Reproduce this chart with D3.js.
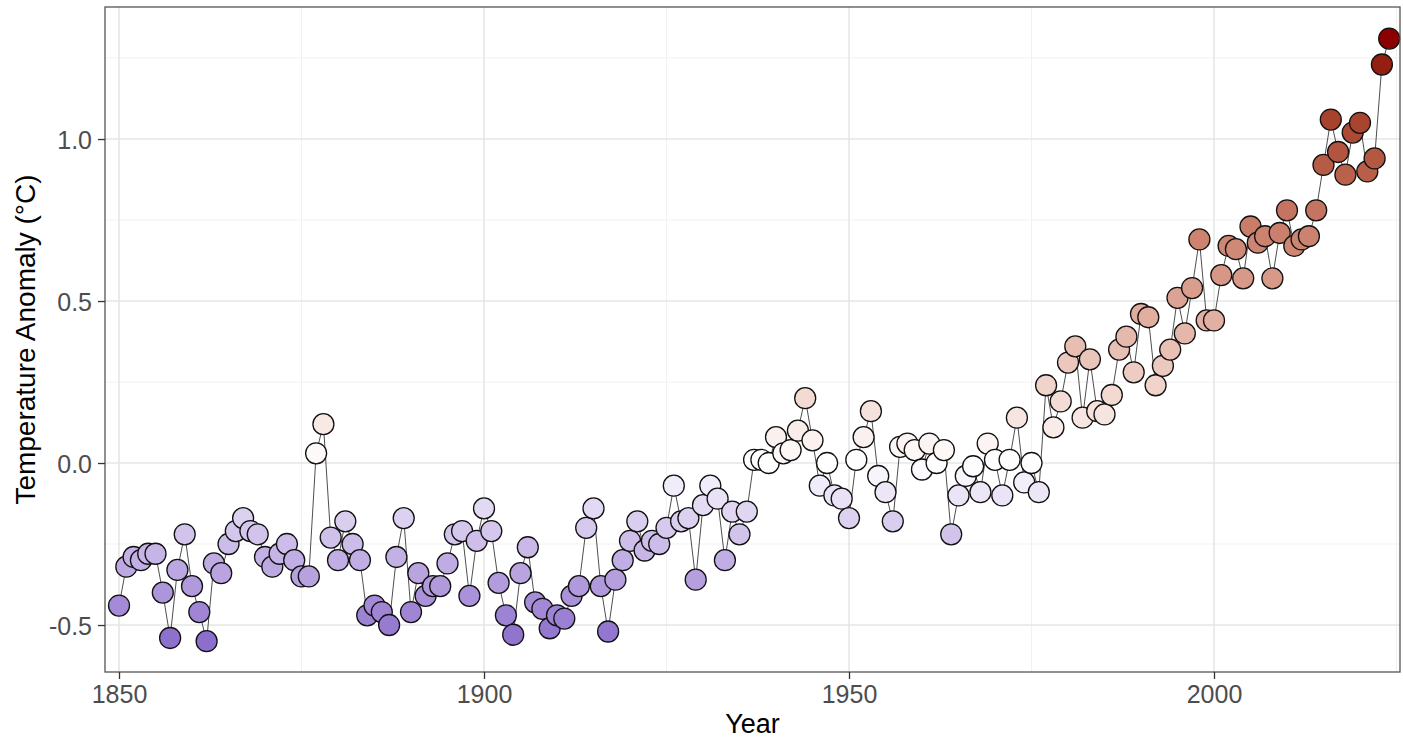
<!DOCTYPE html>
<html>
<head>
<meta charset="utf-8">
<script src="https://cdn.jsdelivr.net/npm/d3@7"></script>
<style>
  html, body { margin: 0; padding: 0; background: #fff; }
  svg { display: block; font-family: "Liberation Sans", Arial, Helvetica, sans-serif; }
</style>
</head>
<body>
<svg id="chart" width="1403" height="738"></svg>
<script>
// Annual global temperature anomalies, 1850–2024 (°C)
const firstYear = 1850;
const anomalies = [
  -0.44, -0.32, -0.29, -0.30, -0.28, -0.28, -0.40, -0.54, -0.33, -0.22, // 1850s
  -0.38, -0.46, -0.55, -0.31, -0.34, -0.25, -0.21, -0.17, -0.21, -0.22, // 1860s
  -0.29, -0.32, -0.28, -0.25, -0.30, -0.35, -0.35,  0.03,  0.12, -0.23, // 1870s
  -0.30, -0.18, -0.25, -0.30, -0.47, -0.44, -0.46, -0.50, -0.29, -0.17, // 1880s
  -0.46, -0.34, -0.41, -0.38, -0.38, -0.31, -0.22, -0.21, -0.41, -0.24, // 1890s
  -0.14, -0.21, -0.37, -0.47, -0.53, -0.34, -0.26, -0.43, -0.45, -0.51, // 1900s
  -0.47, -0.48, -0.41, -0.38, -0.20, -0.14, -0.38, -0.52, -0.36, -0.30, // 1910s
  -0.24, -0.18, -0.27, -0.24, -0.25, -0.20, -0.07, -0.18, -0.17, -0.36, // 1920s
  -0.13, -0.07, -0.11, -0.30, -0.15, -0.22, -0.15,  0.01,  0.01,  0.00, // 1930s
   0.08,  0.03,  0.04,  0.10,  0.20,  0.07, -0.07,  0.00, -0.10, -0.11, // 1940s
  -0.17,  0.01,  0.08,  0.16, -0.04, -0.09, -0.18,  0.05,  0.06,  0.04, // 1950s
  -0.02,  0.06,  0.00,  0.04, -0.22, -0.10, -0.04, -0.01, -0.09,  0.06, // 1960s
   0.01, -0.10,  0.01,  0.14, -0.06,  0.00, -0.09,  0.24,  0.11,  0.19, // 1970s
   0.31,  0.36,  0.14,  0.32,  0.16,  0.15,  0.21,  0.35,  0.39,  0.28, // 1980s
   0.46,  0.45,  0.24,  0.30,  0.35,  0.51,  0.40,  0.54,  0.69,  0.44, // 1990s
   0.44,  0.58,  0.67,  0.66,  0.57,  0.73,  0.68,  0.70,  0.57,  0.71, // 2000s
   0.78,  0.67,  0.69,  0.70,  0.78,  0.92,  1.06,  0.96,  0.89,  1.02, // 2010s
   1.05,  0.90,  0.94,  1.23,  1.31                                     // 2020s
];
const years = anomalies.map((_, i) => firstYear + i);
const data = years.map((year, i) => ({ year, value: anomalies[i] }));

const xMajorTicks = [1850, 1900, 1950, 2000];
const xMinorTicks = [1875, 1925, 1975, 2025];
const yMajorTicks = [-0.5, 0.0, 0.5, 1.0];
const yMinorTicks = [-0.25, 0.25, 0.75, 1.25];
const yTickLabels = ["-0.5", "0.0", "0.5", "1.0"];

const xTitle = "Year";
const yTitle = "Temperature Anomaly (°C)";

// Panel geometry
const panel = { left: 105, top: 7, right: 1400, bottom: 672 };

const x = d3.scaleLinear().domain([1848.08, 2025.48]).range([panel.left, panel.right]);
const y = d3.scaleLinear().domain([-0.645, 1.4075]).range([panel.bottom, panel.top]);

const vMin = d3.min(anomalies), vMax = d3.max(anomalies);
const fill = d3.scaleLinear()
  .domain([vMin, 0, vMax])
  .range(["#8c6fcc", "#ffffff", "#8b0000"])
  .interpolate(d3.interpolateLab)
  .clamp(true);

const svg = d3.select("#chart");

// Panel background
svg.append("rect")
  .attr("x", panel.left).attr("y", panel.top)
  .attr("width", panel.right - panel.left).attr("height", panel.bottom - panel.top)
  .attr("fill", "#fff");

const grid = svg.append("g").attr("class", "grid");

// Minor grid lines
grid.selectAll("line.xminor").data(xMinorTicks.filter(t => x(t) < panel.right)).join("line")
  .attr("class", "xminor")
  .attr("x1", d => x(d)).attr("x2", d => x(d))
  .attr("y1", panel.top).attr("y2", panel.bottom)
  .attr("stroke", "#f1f1f1").attr("stroke-width", 1);
grid.selectAll("line.yminor").data(yMinorTicks).join("line")
  .attr("class", "yminor")
  .attr("x1", panel.left).attr("x2", panel.right)
  .attr("y1", d => y(d)).attr("y2", d => y(d))
  .attr("stroke", "#f1f1f1").attr("stroke-width", 1);

// Major grid lines
grid.selectAll("line.xmajor").data(xMajorTicks).join("line")
  .attr("class", "xmajor")
  .attr("x1", d => x(d)).attr("x2", d => x(d))
  .attr("y1", panel.top).attr("y2", panel.bottom)
  .attr("stroke", "#e6e6e6").attr("stroke-width", 1.6);
grid.selectAll("line.ymajor").data(yMajorTicks).join("line")
  .attr("class", "ymajor")
  .attr("x1", panel.left).attr("x2", panel.right)
  .attr("y1", d => y(d)).attr("y2", d => y(d))
  .attr("stroke", "#e6e6e6").attr("stroke-width", 1.6);

// Connecting line
const line = d3.line().x(d => x(d.year)).y(d => y(d.value));
svg.append("path")
  .datum(data)
  .attr("d", line)
  .attr("fill", "none")
  .attr("stroke", "#3a3a3a")
  .attr("stroke-width", 0.9);

// Points
svg.append("g").selectAll("circle").data(data).join("circle")
  .attr("cx", d => x(d.year))
  .attr("cy", d => y(d.value))
  .attr("r", 10.5)
  .attr("fill", d => fill(d.value))
  .attr("stroke", "#111")
  .attr("stroke-width", 1.3);

// Panel border
svg.append("rect")
  .attr("x", panel.left).attr("y", panel.top)
  .attr("width", panel.right - panel.left).attr("height", panel.bottom - panel.top)
  .attr("fill", "none").attr("stroke", "#555").attr("stroke-width", 1.3);

// Axes
const xAxis = d3.axisBottom(x).tickValues(xMajorTicks).tickFormat(d3.format("d"))
  .tickSize(7).tickPadding(5);
const yAxis = d3.axisLeft(y).tickValues(yMajorTicks)
  .tickFormat((d, i) => yTickLabels[i])
  .tickSize(7).tickPadding(6);

const gx = svg.append("g").attr("transform", `translate(0,${panel.bottom})`).call(xAxis);
const gy = svg.append("g").attr("transform", `translate(${panel.left},0)`).call(yAxis);

[gx, gy].forEach(g => {
  g.select(".domain").remove();
  g.selectAll(".tick line").attr("stroke", "#333").attr("stroke-width", 1.3);
  g.selectAll(".tick text")
    .attr("fill", "#4d4d4d")
    .style("font-size", "25px")
    .style("font-family", "'Liberation Sans', Arial, sans-serif");
});
gx.selectAll(".tick text").attr("dy", "0.76em");
gy.selectAll(".tick text").attr("dy", "0.36em");

// Axis titles
svg.append("text")
  .attr("x", (panel.left + panel.right) / 2)
  .attr("y", 733)
  .attr("text-anchor", "middle")
  .attr("fill", "#000")
  .style("font-size", "27px")
  .text(xTitle);

svg.append("text")
  .attr("transform", `translate(35,${(panel.top + panel.bottom) / 2}) rotate(-90)`)
  .attr("text-anchor", "middle")
  .attr("fill", "#000")
  .style("font-size", "28px")
  .text(yTitle);
</script>
</body>
</html>
